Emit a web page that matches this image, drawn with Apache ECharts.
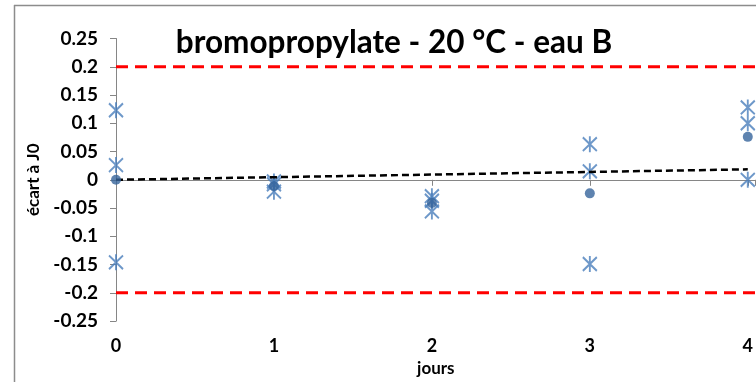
<!DOCTYPE html>
<html>
<head>
<meta charset="utf-8">
<script src="https://cdn.jsdelivr.net/npm/echarts@6/dist/echarts.min.js"></script>
<style>
  html, body { margin: 0; padding: 0; background: #fff; }
  #chart { width: 756px; height: 382px; }
</style>
</head>
<body>
<div id="chart"></div>
<script>
// Days of measurement
const days = [0, 1, 2, 3, 4];
// Replicate deviations from J0 for each day (three per day)
const replicateA = [0.123, -0.003, -0.029, 0.063, 0.128];
const replicateB = [0.026, -0.008, -0.037, 0.015, 0.100];
const replicateC = [-0.146, -0.021, -0.056, -0.149, 0.000];
// Mean deviation per day
const means = [0.000, -0.011, -0.041, -0.024, 0.076];
// Acceptance limits
const limits = [-0.2, 0.2];
// Axis ranges
const yTicks = { min: -0.25, max: 0.25, step: 0.05 };
const xRange = { min: 0, max: 4.05, step: 1 };

// Trend of the means: least squares through the origin
const slope = days.reduce((s, d, i) => s + d * means[i], 0) /
              days.reduce((s, d) => s + d * d, 0);
const trend = [[days[0], slope * days[0]], [days[days.length - 1], slope * days[days.length - 1]]];

const crossColor = '#4a7ebb';
const dotColor = '#36649b';
const asterisk = 'path://M0 1L12 13M12 1L0 13M6 0L6 14';
const font = 'Lato';

function pairs(vals) { return days.map((d, i) => [d, vals[i]]); }

const crossStyle = {
  type: 'scatter',
  xAxisIndex: 0, yAxisIndex: 0,
  symbol: asterisk,
  symbolSize: [14, 16],
  itemStyle: { color: 'none', borderColor: crossColor, borderWidth: 2 },
  emphasis: { disabled: true },
  z: 3
};

const chart = echarts.init(document.getElementById('chart'), null, { renderer: 'canvas' });
chart.setOption({
  animation: false,
  backgroundColor: '#fff',
  title: {
    text: 'bromopropylate - 20 °C - eau B',
    left: 389, top: 22, textAlign: 'center',
    textStyle: { fontFamily: font, fontWeight: 'bold', fontSize: 31.5, color: '#000' }
  },
  graphic: [
    { type: 'line', shape: { x1: 14.5, y1: 5, x2: 14.5, y2: 382 }, style: { stroke: '#8c8c8c', lineWidth: 1.5 } },
    { type: 'line', shape: { x1: 14, y1: 5.5, x2: 756, y2: 5.5 }, style: { stroke: '#8c8c8c', lineWidth: 1.5 } }
  ],
  grid: { left: 116, top: 38.5, width: 158 * xRange.max, height: 284.5, containLabel: false },
  xAxis: [
    {
      type: 'value', min: xRange.min, max: xRange.max, interval: xRange.step,
      axisLine: { onZero: true, lineStyle: { color: '#868686', width: 1 } },
      axisTick: { show: true, inside: false, length: 6, lineStyle: { color: '#868686' } },
      axisLabel: { show: false },
      splitLine: { show: false }
    },
    {
      type: 'value', min: xRange.min, max: xRange.max, interval: xRange.step,
      position: 'bottom',
      axisLine: { show: false, onZero: false },
      axisTick: { show: false },
      splitLine: { show: false },
      axisLabel: {
        margin: 16, showMaxLabel: false,
        fontFamily: font, fontWeight: 'bold', fontSize: 18, color: '#000',
        formatter: v => (Number.isInteger(v) ? String(v) : '')
      },
      name: 'jours', nameLocation: 'middle', nameGap: 37,
      nameTextStyle: { fontFamily: font, fontWeight: 'bold', fontSize: 17, color: '#000' }
    }
  ],
  yAxis: {
    type: 'value', min: yTicks.min, max: yTicks.max, interval: yTicks.step,
    axisLine: { show: true, lineStyle: { color: '#868686', width: 1 } },
    axisTick: { show: true, inside: false, length: 6, lineStyle: { color: '#868686' } },
    splitLine: { show: false },
    axisLabel: {
      margin: 18,
      fontFamily: font, fontWeight: 'bold', fontSize: 19, color: '#000',
      formatter: v => String(Number(v.toFixed(2)))
    },
    name: 'écart à J0', nameLocation: 'middle', nameRotate: 90, nameGap: 72,
    nameTextStyle: { fontFamily: font, fontWeight: 'bold', fontSize: 17, color: '#000' }
  },
  series: [
    ...limits.map(l => ({
      type: 'line', xAxisIndex: 0, yAxisIndex: 0,
      data: [[xRange.min, l], [xRange.max, l]],
      symbol: 'none', silent: true,
      lineStyle: { color: '#ff0000', width: 3, type: [12, 7] },
      z: 2
    })),
    Object.assign({ data: pairs(replicateA) }, crossStyle),
    Object.assign({ data: pairs(replicateB) }, crossStyle),
    Object.assign({ data: pairs(replicateC) }, crossStyle),
    {
      type: 'line', xAxisIndex: 0, yAxisIndex: 0,
      data: trend, symbol: 'none', silent: true,
      lineStyle: { color: '#000', width: 2.5, type: [7, 4] },
      z: 4
    },
    {
      type: 'scatter', xAxisIndex: 0, yAxisIndex: 0,
      data: pairs(means), symbol: 'circle', symbolSize: 10,
      itemStyle: { color: dotColor },
      z: 5
    }
  ]
});
</script>
</body>
</html>
